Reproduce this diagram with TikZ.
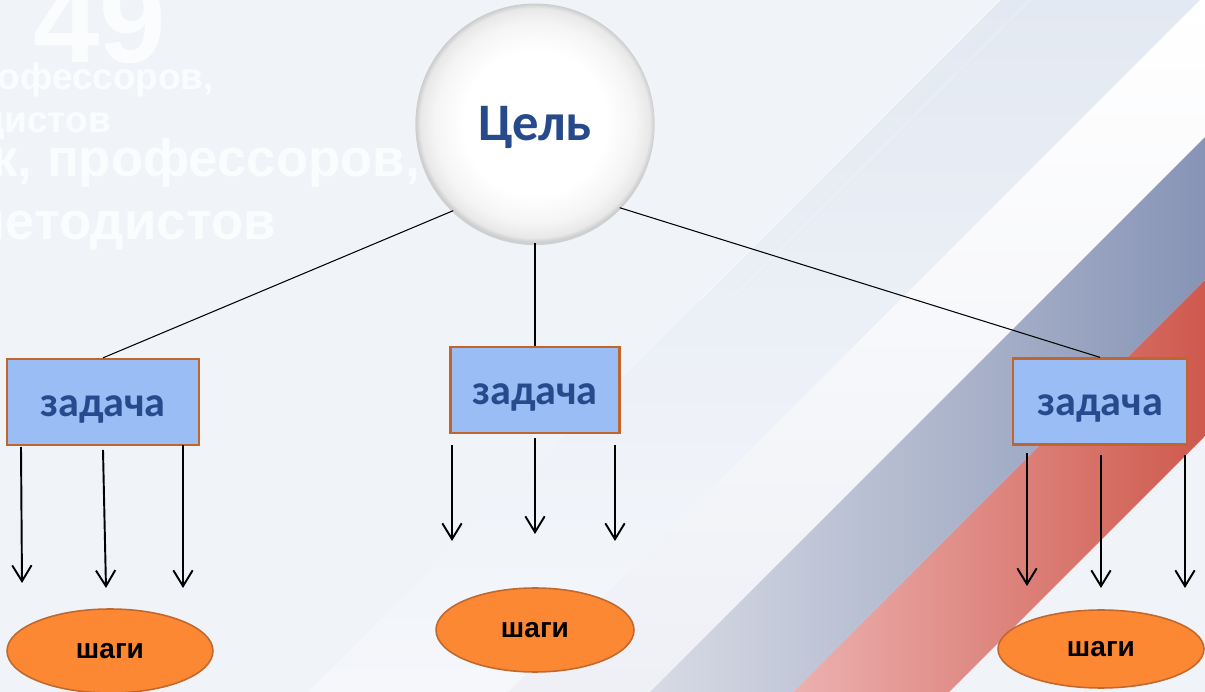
\documentclass[tikz,border=0pt]{standalone}
\usepackage{fontspec}
\newfontfamily\calib{Carlito}
\newfontfamily\arial{Liberation Sans}
\usetikzlibrary{positioning,shapes.geometric,arrows.meta,shadows}

\definecolor{bgc}{RGB}{240,244,249}
\definecolor{boxfill}{RGB}{155,189,245}
\definecolor{boxline}{RGB}{192,101,44}
\definecolor{txtblue}{RGB}{38,74,140}
\definecolor{ovalfill}{RGB}{253,136,52}
\definecolor{ovalline}{RGB}{194,103,46}
\definecolor{rima}{gray}{0.96}
\definecolor{rimb}{gray}{0.91}
\definecolor{rimc}{gray}{0.80}

\pgfdeclareradialshading{pearl}{\pgfpoint{0bp}{0bp}}{color(0bp)=(white); color(15bp)=(white); color(21bp)=(rima); color(24bp)=(rimb); color(25bp)=(rimc); color(50bp)=(rimc)}

\tikzset{
  goalnode/.style={circle, minimum size=4.78cm, inner sep=0pt, shading=pearl,
    drop shadow={opacity=0.3, shadow xshift=0pt, shadow yshift=-1.5pt},
    font=\calib\bfseries\fontsize{30}{36}\selectfont, text=txtblue, text depth=0pt},
  taskbox/.style={rectangle, draw=boxline, line width=1.3pt, fill=boxfill,
    minimum height=1.72cm, inner sep=0pt, text=txtblue, text height=16pt, text depth=0pt,
    font=\calib\bfseries\fontsize{24}{28}\selectfont},
  stepoval/.style={ellipse, draw=ovalline, line width=0.9pt, fill=ovalfill, inner sep=0pt,
    font=\arial\bfseries\fontsize{16}{19}\selectfont},
  link/.style={line width=0.6pt},
  arr/.style={line width=1.1pt, -{Straight Barb[length=9pt,width=11pt]}},
  ghost/.style={text=white, text opacity=0.75, inner sep=0pt, anchor=base east}
}

\begin{document}
\begin{tikzpicture}[x=0.02cm, y=-0.02cm]
\useasboundingbox (0,0) rectangle (1205,692);

% background and flag stripes
\fill[bgc] (0,0) rectangle (1205,692);
\shade[top color={rgb,255:red,227;green,233;blue,242}, bottom color={rgb,255:red,245;green,247;blue,251}] (1000,0) -- (1200,0) -- (508,692) -- (308,692) -- cycle;
\shade[top color=white, bottom color={rgb,255:red,238;green,240;blue,246}] (1200,0) -- (1205,0) -- (1205,137) -- (650,692) -- (508,692) -- cycle;
\shade[left color={rgb,255:red,216;green,219;blue,229}, right color={rgb,255:red,135;green,148;blue,182}] (1205,137) -- (1205,280) -- (793,692) -- (650,692) -- cycle;
\shade[left color={rgb,255:red,236;green,177;blue,176}, right color={rgb,255:red,207;green,89;blue,77}] (1205,280) -- (1205,436) -- (949,692) -- (793,692) -- cycle;
\draw[white, opacity=0.45, line width=0.8pt] (1000,0) -- (700,300);
\draw[white, opacity=0.3, line width=0.6pt] (1030,0) -- (730,300);

% faint template text
\node[ghost, anchor=base west, font=\arial\bfseries\fontsize{68}{70}\selectfont] (num) at (33,63) {49};
\node[ghost, font=\arial\bfseries\fontsize{21}{24}\selectfont] (w1) at (214,90) {профессоров,};
\node[ghost, font=\arial\bfseries\fontsize{21}{24}\selectfont] (w2) at (111,133) {методистов};
\node[ghost, font=\arial\bfseries\fontsize{30}{34}\selectfont] (w3) at (420,177) {к, профессоров,};
\node[ghost, font=\arial\bfseries\fontsize{30}{34}\selectfont] (w4) at (276,240) {методистов};

% goal, tasks, steps
\node[goalnode] (goal) at (535,123) {Цель};
\node[taskbox, minimum width=3.84cm] (t1) at (103,402) {задача};
\node[taskbox, minimum width=3.38cm] (t2) at (535,390) {задача};
\node[taskbox, minimum width=3.48cm] (t3) at (1100,401.5) {задача};
\node[stepoval, minimum width=4.12cm, minimum height=1.68cm] (s1) at (110,651) {шаги};
\node[stepoval, minimum width=3.96cm, minimum height=1.68cm] (s2) at (535,630) {шаги};
\node[stepoval, minimum width=4.12cm, minimum height=1.56cm] (s3) at (1101,649) {шаги};

\draw[link] (goal.227) -- (t1.north);
\draw[link] (goal.south) -- (t2.north);
\draw[link] (goal.-45) -- (t3.north);

% arrows under the tasks
\coordinate (p1) at (21,447);
\coordinate (q1) at (22,583);
\coordinate (p2) at (103,450);
\coordinate (q2) at (106,588);
\coordinate (p3) at (183,445);
\coordinate (q3) at (183,588);
\coordinate (p4) at (452,445);
\coordinate (q4) at (452,541);
\coordinate (p5) at (535,438);
\coordinate (q5) at (535,534);
\coordinate (p6) at (615,445);
\coordinate (q6) at (615,541);
\coordinate (p7) at (1027,453);
\coordinate (q7) at (1027,586);
\coordinate (p8) at (1101,455);
\coordinate (q8) at (1101,588);
\coordinate (p9) at (1185,455);
\coordinate (q9) at (1185,588);
\draw[arr] (p1) -- (q1);
\draw[arr] (p2) -- (q2);
\draw[arr] (p3) -- (q3);
\draw[arr] (p4) -- (q4);
\draw[arr] (p5) -- (q5);
\draw[arr] (p6) -- (q6);
\draw[arr] (p7) -- (q7);
\draw[arr] (p8) -- (q8);
\draw[arr] (p9) -- (q9);

\end{tikzpicture}
\end{document}
